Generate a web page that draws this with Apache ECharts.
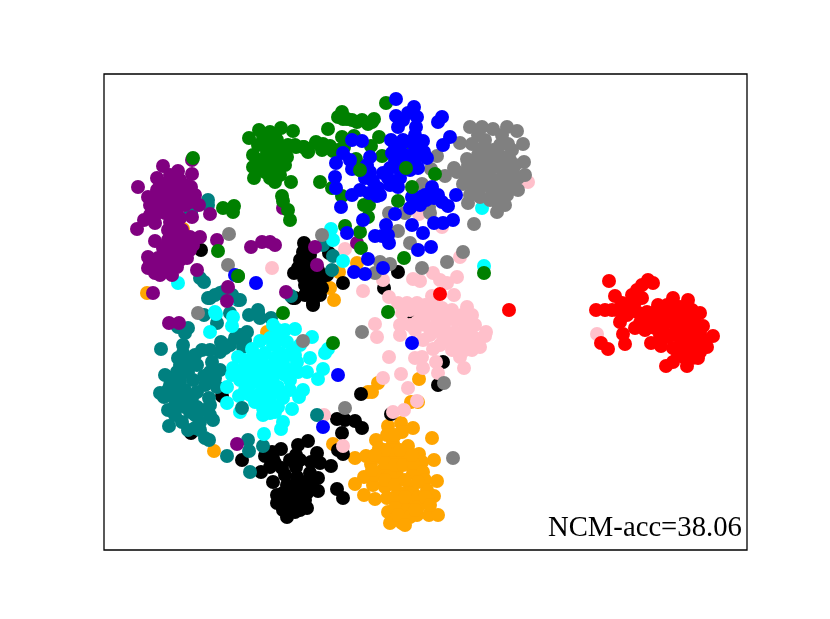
<!DOCTYPE html>
<html>
<head>
<meta charset="utf-8">
<script src="https://cdn.jsdelivr.net/npm/echarts@6/dist/echarts.min.js"></script>
<style>html,body{margin:0;background:#fff}#chart{width:830px;height:619px}</style>
</head>
<body>
<div id="chart"></div>
<script>
// embedding coordinates, one list per class (unitless)
const orange = [[388,426],[401,423],[402,432],[413,428],[387,435],[376,440],[432,438],[393,443],[408,446],[379,448],[355,458],[366,456],[371,464],[380,457],[392,457],[402,455],[419,454],[434,460],[422,462],[408,460],[383,470],[397,475],[390,475],[413,473],[423,472],[364,477],[355,484],[373,485],[385,487],[410,487],[425,480],[437,481],[364,495],[375,499],[387,498],[400,493],[413,493],[427,490],[434,496],[388,512],[400,502],[413,502],[423,503],[407,510],[417,515],[429,515],[438,515],[390,523],[402,523],[419,379],[378,383],[372,392],[368,392],[411,402],[418,402],[357,263],[339,272],[323,280],[330,288],[334,300],[306,252],[183,229],[147,293],[267,332],[214,451],[333,444],[385,463],[395,465],[403,465],[413,463],[375,475],[385,480],[395,485],[405,480],[418,482],[395,497],[405,497],[418,497],[428,500],[395,508],[410,517],[418,507],[425,497],[398,515],[405,525],[393,450],[400,450],[385,450],[412,455],[375,455],[415,510],[430,505],[372,470],[395,435]];
const black = [[281,449],[298,445],[308,441],[265,456],[273,458],[296,455],[317,453],[338,450],[343,454],[282,468],[296,467],[311,462],[320,463],[331,466],[261,472],[242,460],[310,473],[318,478],[297,477],[273,482],[287,485],[300,487],[283,493],[293,493],[307,493],[318,491],[337,489],[343,498],[277,503],[287,503],[298,503],[307,508],[287,517],[295,512],[222,396],[191,433],[361,394],[337,419],[345,420],[355,421],[362,428],[342,433],[438,385],[391,414],[443,362],[410,318],[304,243],[303,252],[329,253],[307,262],[302,273],[313,273],[327,275],[343,283],[307,285],[320,295],[313,303],[398,272],[384,288],[294,273],[305,285],[313,295],[313,305],[201,250],[295,298],[293,298],[315,294],[287,495],[290,490],[280,497],[290,510],[300,498],[295,485],[285,475],[275,463],[270,467],[302,482],[312,485],[292,500],[283,510],[300,510],[305,500],[277,495],[290,460],[272,452],[300,460],[310,483],[305,270],[315,285],[310,280],[320,280],[300,260],[310,255],[318,270],[322,288],[298,268],[305,295],[310,290],[304,278]];
const pink = [[363,291],[389,297],[432,296],[454,295],[398,303],[407,303],[417,303],[430,312],[442,308],[452,310],[467,307],[472,315],[402,313],[417,322],[427,315],[437,323],[447,320],[465,325],[475,325],[375,324],[403,323],[377,337],[400,335],[430,335],[443,337],[423,340],[455,332],[456,343],[467,340],[486,332],[485,336],[480,347],[472,350],[433,349],[389,357],[415,358],[422,357],[423,368],[436,362],[438,373],[460,357],[464,368],[401,374],[383,378],[408,388],[417,401],[404,410],[393,412],[343,446],[345,249],[460,257],[442,227],[419,214],[383,280],[413,279],[420,281],[433,273],[440,280],[447,283],[457,277],[528,182],[272,268],[324,415],[597,334],[410,310],[420,312],[435,305],[445,315],[410,325],[425,325],[455,320],[435,330],[445,330],[460,335],[470,330],[465,350],[452,350],[475,338],[440,345],[415,330],[400,325],[450,340],[462,315],[440,315],[425,305],[458,345]];
const red = [[609,281],[648,280],[653,283],[642,285],[615,296],[632,295],[642,298],[596,310],[605,310],[617,310],[627,305],[627,315],[620,322],[637,312],[647,312],[658,305],[673,298],[688,300],[667,305],[680,307],[700,313],[692,310],[653,320],[667,317],[680,318],[693,318],[703,326],[635,328],[640,323],[650,327],[663,327],[677,328],[690,330],[713,336],[623,334],[625,344],[601,343],[608,349],[651,343],[661,346],[673,348],[687,340],[700,340],[707,347],[682,350],[697,350],[692,358],[698,358],[673,362],[666,366],[687,366],[673,310],[687,325],[667,337],[440,294],[509,310],[660,315],[670,322],[675,315],[685,312],[695,322],[660,335],[672,335],[682,335],[692,340],[680,345],[690,348],[700,332],[655,312],[643,322],[625,310],[635,302],[637,290],[622,303],[612,310],[645,330],[655,328],[685,358],[678,355],[700,352],[705,340]];
const teal = [[210,298],[220,293],[232,295],[238,300],[204,315],[230,313],[249,315],[258,312],[260,318],[271,318],[217,323],[188,328],[178,327],[185,333],[247,332],[235,338],[221,342],[245,340],[225,348],[243,347],[183,345],[161,349],[183,353],[202,350],[210,350],[192,361],[197,365],[212,362],[220,370],[177,372],[165,375],[204,376],[193,380],[180,382],[170,385],[217,387],[197,392],[168,390],[164,397],[180,398],[190,400],[209,398],[185,407],[197,407],[168,410],[210,415],[213,420],[182,422],[200,422],[169,426],[188,430],[200,430],[205,438],[209,440],[248,440],[249,451],[263,446],[227,456],[250,472],[208,200],[208,205],[191,213],[200,278],[204,282],[208,298],[215,295],[223,292],[291,296],[258,310],[323,245],[333,256],[332,270],[180,365],[170,378],[175,392],[188,372],[185,390],[192,398],[205,385],[175,405],[190,412],[205,410],[210,405],[195,415],[210,372],[195,355],[180,378],[160,393],[175,415],[195,428],[230,345],[240,335],[220,352],[215,378],[185,360],[178,358],[175,398]];
const cyan = [[216,314],[233,317],[232,326],[210,332],[273,325],[285,330],[295,329],[312,337],[260,341],[273,345],[287,342],[252,349],[265,353],[280,353],[293,350],[328,349],[325,353],[310,358],[238,357],[297,362],[252,363],[270,367],[283,363],[233,368],[232,375],[307,372],[323,369],[318,379],[247,378],[260,378],[273,378],[290,380],[227,387],[248,388],[263,388],[278,387],[303,390],[299,397],[239,396],[255,402],[270,400],[283,398],[227,403],[240,412],[263,408],[278,407],[292,409],[263,415],[270,413],[283,422],[281,429],[264,434],[232,298],[178,283],[331,229],[333,240],[343,261],[482,208],[484,266],[215,312],[255,355],[262,360],[275,358],[288,355],[245,360],[258,370],[265,372],[278,370],[290,370],[298,372],[242,370],[252,372],[255,382],[268,383],[285,375],[240,380],[270,390],[258,395],[290,390],[265,395],[278,392],[295,355],[270,338],[280,340],[300,345],[278,330],[245,390],[262,400],[250,395],[268,407],[275,412]];
const tealTop = [[242,408],[317,415],[232,295],[240,300],[191,213]];
const purple = [[192,160],[163,166],[178,171],[192,174],[157,178],[138,187],[168,182],[191,187],[148,197],[157,190],[168,193],[180,193],[157,202],[168,202],[180,203],[190,202],[199,205],[157,213],[165,213],[177,210],[192,217],[210,214],[155,223],[144,220],[137,229],[168,230],[177,224],[155,241],[182,230],[190,237],[200,237],[217,240],[178,242],[172,252],[185,252],[163,248],[148,257],[158,258],[170,260],[187,258],[177,267],[148,268],[155,273],[163,270],[172,275],[197,270],[251,247],[262,242],[270,242],[275,245],[283,208],[153,293],[228,287],[227,301],[286,292],[317,265],[357,243],[169,323],[179,323],[237,444],[315,247],[170,175],[175,185],[160,205],[175,215],[170,245],[175,255],[160,265],[160,185],[180,180],[185,185],[150,205],[163,190],[175,198],[185,197],[195,195],[163,207],[150,215],[170,222],[180,218],[185,205],[175,190],[160,195],[170,205],[185,245],[175,245],[160,258],[165,265],[180,260],[193,245],[180,235],[168,240],[155,262],[150,262],[165,255],[175,235],[190,250],[172,268],[160,275]];
const gray = [[470,127],[482,127],[493,129],[507,127],[517,131],[502,135],[523,144],[508,144],[460,143],[472,144],[483,148],[493,150],[482,158],[467,159],[503,157],[510,160],[524,162],[492,160],[473,168],[483,168],[500,168],[513,170],[454,168],[445,176],[463,173],[475,178],[490,177],[503,177],[525,175],[463,184],[473,187],[487,185],[500,187],[513,183],[518,190],[492,193],[507,195],[480,197],[468,203],[505,205],[497,212],[474,224],[437,156],[431,169],[422,184],[429,207],[430,213],[405,213],[389,213],[398,231],[410,243],[463,252],[447,262],[422,268],[390,264],[380,262],[375,273],[322,235],[229,234],[228,265],[198,313],[303,341],[362,332],[345,408],[444,383],[453,458],[478,155],[488,155],[497,155],[477,165],[490,168],[505,165],[470,175],[482,178],[495,180],[508,185],[518,178],[480,188],[492,183],[503,195],[470,195],[490,200],[497,202],[515,165],[500,145],[457,172],[468,165],[485,140],[478,135],[512,150],[510,175]];
const green = [[193,158],[259,130],[270,132],[281,128],[293,131],[249,138],[263,140],[277,140],[288,145],[303,147],[308,151],[316,143],[253,155],[267,152],[280,152],[287,157],[268,163],[253,167],[277,173],[265,172],[254,178],[275,182],[291,182],[282,196],[283,201],[288,210],[290,220],[223,208],[234,206],[233,212],[218,251],[238,276],[304,147],[308,152],[316,142],[322,150],[323,144],[333,151],[342,151],[344,147],[328,129],[342,137],[338,117],[342,112],[347,119],[357,122],[368,124],[374,119],[386,103],[354,136],[379,137],[371,146],[382,156],[356,159],[360,170],[320,182],[332,188],[342,196],[408,142],[435,174],[398,201],[364,205],[369,205],[368,217],[345,226],[360,232],[361,248],[404,258],[484,273],[388,312],[283,313],[333,343],[265,145],[273,150],[258,145],[260,160],[275,160],[280,165],[270,170],[258,163],[283,147],[295,145],[270,178],[280,175],[263,135],[275,135],[285,150],[272,145],[262,168],[285,165],[338,150],[330,146],[296,147],[343,119],[352,120],[362,120],[372,122]];
const blue = [[396,99],[414,107],[396,116],[408,113],[417,117],[398,127],[416,127],[442,117],[438,122],[450,137],[443,145],[352,140],[362,141],[391,140],[411,142],[423,141],[400,147],[415,150],[424,152],[392,153],[343,153],[336,163],[370,157],[367,165],[352,169],[363,169],[395,160],[410,158],[427,158],[418,168],[390,168],[383,173],[335,177],[336,188],[373,181],[400,178],[390,185],[398,187],[352,195],[369,193],[377,196],[341,207],[432,187],[456,195],[412,197],[420,197],[426,200],[438,195],[410,208],[442,202],[448,206],[363,220],[395,214],[453,220],[443,223],[434,223],[412,225],[386,225],[423,233],[347,233],[375,236],[382,236],[389,243],[418,250],[431,247],[368,259],[354,272],[365,274],[383,268],[256,283],[235,275],[338,375],[323,427],[412,343],[398,150],[405,155],[415,160],[400,170],[410,170],[420,145],[415,135],[403,140],[370,172],[378,188],[388,178],[365,178],[425,195],[434,198],[405,165],[350,160],[420,205],[395,145],[403,120],[388,235],[380,195],[360,190]];
const greenTop = [[406,168],[412,187],[360,170],[238,276]];
const accLabel = 'NCM-acc=38.06';

const layers = [
  [orange, '#ffa500'],
  [black, '#000000'],
  [pink, '#ffc0cb'],
  [red, '#ff0000'],
  [teal, '#008080'],
  [cyan, '#00ffff'],
  [tealTop, '#008080'],
  [purple, '#800080'],
  [gray, '#808080'],
  [green, '#008000'],
  [blue, '#0000ff'],
  [greenTop, '#008000'],
];

const chart = echarts.init(document.getElementById('chart'), null, { renderer: 'canvas' });
const hiddenAxis = { axisLine: { show: false }, axisTick: { show: false }, axisLabel: { show: false }, splitLine: { show: false } };

chart.setOption({
  animation: false,
  backgroundColor: '#fff',
  grid: { left: 104, top: 74, width: 643, height: 476, show: true, borderColor: '#000', borderWidth: 1.3, backgroundColor: '#fff' },
  xAxis: { type: 'value', min: 104, max: 747, ...hiddenAxis },
  yAxis: { type: 'value', min: 74, max: 550, inverse: true, ...hiddenAxis },
  graphic: [{
    type: 'text',
    left: 548,
    top: 514,
    z: 100,
    style: { text: accLabel, fill: '#000', font: '28.7px "Liberation Serif"' },
  }],
  series: layers.map(([data, color]) => ({
    type: 'scatter',
    data,
    symbolSize: 14,
    itemStyle: { color, opacity: 1 },
  })),
});
</script>
</body>
</html>
